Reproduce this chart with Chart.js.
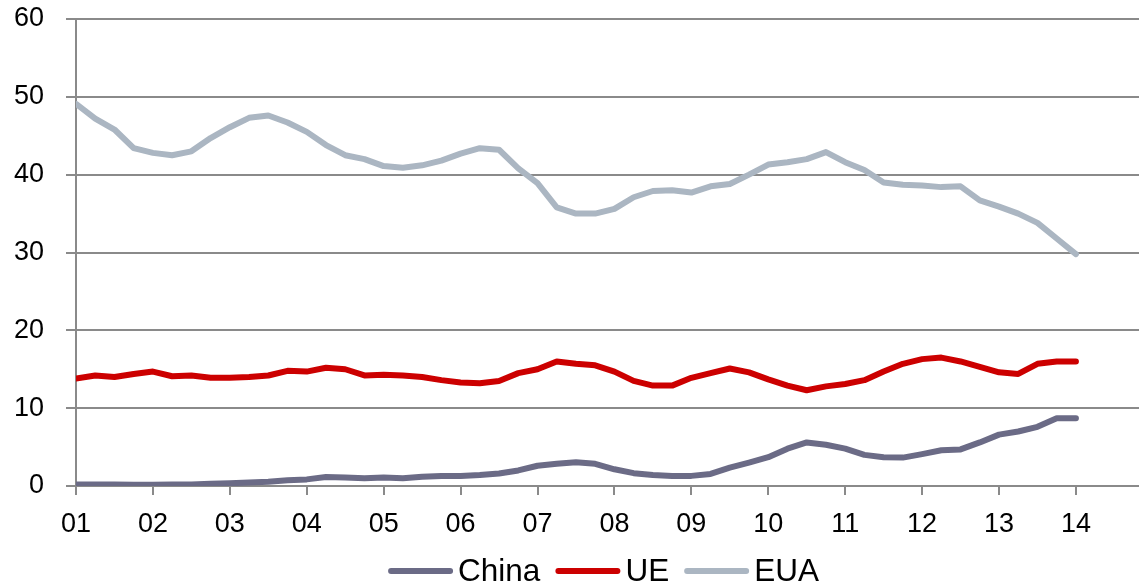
<!DOCTYPE html>
<html>
<head>
<meta charset="utf-8">
<script src="https://cdn.jsdelivr.net/npm/chart.js@4.4.1/dist/chart.umd.min.js"></script>
<style>
  html, body { margin: 0; padding: 0; background: #ffffff; }
  #wrap { width: 1139px; height: 588px; position: relative; }
</style>
</head>
<body>
<div id="wrap"><canvas id="chart"></canvas></div>
<script>
// Year tick labels (one tick per year, data sampled quarterly)
const yearLabels = ['01','02','03','04','05','06','07','08','09','10','11','12','13','14'];
const yTickValues = [0, 10, 20, 30, 40, 50, 60];

// Quarterly series, 2001 Q1 .. 2014 Q1
const china = [
  0.2, 0.2, 0.2, 0.15, 0.15, 0.2, 0.2, 0.3, 0.35, 0.45,
  0.55, 0.75, 0.85, 1.15, 1.1, 1.0, 1.1, 1.0, 1.2, 1.3,
  1.3, 1.4, 1.6, 2.0, 2.6, 2.85, 3.05, 2.85, 2.15, 1.65,
  1.4, 1.3, 1.3, 1.55, 2.35, 3.0, 3.7, 4.8, 5.6, 5.3,
  4.8, 4.0, 3.7, 3.65, 4.1, 4.6, 4.7, 5.6, 6.6, 7.0,
  7.6, 8.7, 8.7
];
const ue = [
  13.8, 14.2, 14.0, 14.4, 14.7, 14.1, 14.2, 13.9, 13.9, 14.0,
  14.2, 14.8, 14.7, 15.2, 15.0, 14.2, 14.3, 14.2, 14.0, 13.6,
  13.3, 13.2, 13.5, 14.5, 15.0, 16.0, 15.7, 15.5, 14.7, 13.5,
  12.9, 12.9, 13.9, 14.5, 15.1, 14.6, 13.7, 12.9, 12.3, 12.8,
  13.1, 13.6, 14.7, 15.7, 16.3, 16.5, 16.0, 15.3, 14.6, 14.4,
  15.7, 16.0, 16.0
];
const eua = [
  49.1, 47.2, 45.8, 43.4, 42.8, 42.5, 43.0, 44.7, 46.1, 47.3,
  47.6, 46.7, 45.5, 43.8, 42.5, 42.0, 41.1, 40.9, 41.2, 41.8,
  42.7, 43.4, 43.2, 40.8, 38.9, 35.8, 35.0, 35.0, 35.6, 37.1,
  37.9, 38.0, 37.7, 38.5, 38.8, 40.0, 41.3, 41.6, 42.0, 42.9,
  41.6, 40.6, 39.0, 38.7, 38.6, 38.4, 38.5, 36.7, 35.9, 35.0,
  33.8, 31.8, 29.8
];

const seriesNames = ['China', 'UE', 'EUA'];
const seriesColors = ['#6b6b86', '#cc0000', '#abb6c2'];

// quarter index -> years since '01
const toPoints = arr => arr.map((v, i) => ({ x: i / 4, y: v }));

const FONT = '"Liberation Sans", Arial, Helvetica, sans-serif';
const GRID = '#8a8a8a';

// Legend drawn under the plot: short round-capped line sample + label
const bottomLegend = {
  id: 'bottomLegend',
  afterDraw(chart) {
    const ctx = chart.ctx;
    const area = chart.chartArea;
    ctx.save();
    ctx.font = '31.5px ' + FONT;
    const sample = 65, gap = 5, spacing = 15;
    const items = chart.data.datasets.map(ds => ({
      label: ds.label, color: ds.borderColor, w: ctx.measureText(ds.label).width
    }));
    const total = items.reduce((a, it) => a + sample + gap + it.w, 0) + spacing * (items.length - 1);
    let x = (area.left + area.right) / 2 - 4 - total / 2;
    const yLine = 571, yText = 581;
    ctx.lineCap = 'round';
    ctx.lineWidth = 6;
    ctx.textBaseline = 'alphabetic';
    ctx.textAlign = 'left';
    items.forEach(it => {
      ctx.strokeStyle = it.color;
      ctx.beginPath();
      ctx.moveTo(x + 3, yLine);
      ctx.lineTo(x + sample - 3, yLine);
      ctx.stroke();
      ctx.fillStyle = '#000000';
      ctx.fillText(it.label, x + sample + gap, yText);
      x += sample + gap + it.w + spacing;
    });
    ctx.restore();
  }
};

const datasets = [china, ue, eua].map((arr, i) => ({
  label: seriesNames[i],
  data: toPoints(arr),
  borderColor: seriesColors[i],
  backgroundColor: seriesColors[i],
  borderWidth: 6,
  borderCapStyle: 'round',
  borderJoinStyle: 'round',
  pointRadius: 0,
  tension: 0,
  fill: false
}));

new Chart(document.getElementById('chart'), {
  type: 'line',
  data: { datasets },
  plugins: [bottomLegend],
  options: {
    responsive: true,
    maintainAspectRatio: false,
    animation: false,
    devicePixelRatio: 1,
    layout: { padding: { top: 0, right: 0, bottom: 0, left: 0 } },
    plugins: {
      legend: { display: false },
      tooltip: { enabled: false }
    },
    scales: {
      x: {
        type: 'linear',
        min: 0,
        max: 13.82,
        afterBuildTicks: s => { s.ticks = yearLabels.map((_, i) => ({ value: i })); },
        afterFit: s => { s.height = 102; s.paddingRight = 0; },
        ticks: {
          autoSkip: false,
          maxRotation: 0,
          padding: 13,
          color: '#000000',
          font: { family: FONT, size: 27 },
          callback: v => yearLabels[Math.round(v)]
        },
        grid: {
          drawOnChartArea: false,
          drawTicks: true,
          tickLength: 9,
          tickWidth: 2,
          tickColor: GRID,
          color: GRID,
          lineWidth: 2
        },
        border: { color: GRID, width: 2 }
      },
      y: {
        min: 0,
        max: 60,
        afterBuildTicks: s => { s.ticks = yTickValues.map(v => ({ value: v })); },
        afterFit: s => { s.width = 76; s.paddingTop = 19; s.paddingBottom = 0; },
        ticks: {
          padding: 22,
          color: '#000000',
          font: { family: FONT, size: 27 }
        },
        grid: {
          color: GRID,
          lineWidth: 2,
          drawTicks: true,
          tickLength: 10,
          tickColor: GRID
        },
        border: { color: GRID, width: 2 }
      }
    }
  }
});
</script>
</body>
</html>
